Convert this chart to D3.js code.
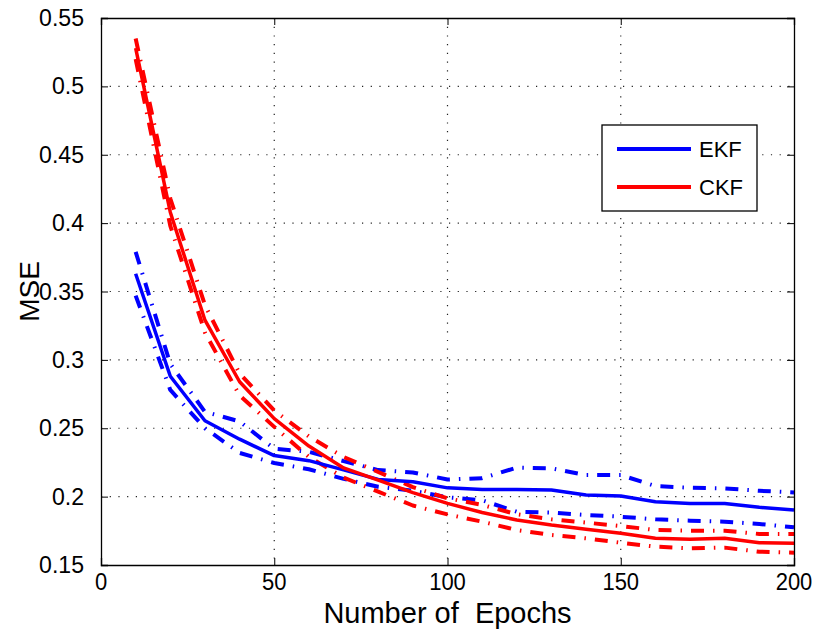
<!DOCTYPE html>
<html>
<head>
<meta charset="utf-8">
<script src="https://cdn.jsdelivr.net/npm/d3@7"></script>
<style>
  body { margin: 0; background: #fff; }
  text { font-family: "Liberation Sans", Arial, sans-serif; fill: #000; }
</style>
</head>
<body>
<div id="chart"></div>
<script>
// epochs sampled every 10
var epochs = [10, 20, 30, 40, 50, 60, 70, 80, 90, 100, 110, 120, 130, 140, 150, 160, 170, 180, 190, 200];

var ekfMean  = [0.363, 0.288, 0.2555, 0.242, 0.230, 0.2263, 0.2196, 0.2126, 0.2109, 0.2064, 0.2053, 0.2053, 0.2048, 0.2012, 0.2005, 0.1962, 0.1950, 0.1950, 0.1922, 0.1902];
var ekfUpper = [0.379, 0.297, 0.262, 0.255, 0.235, 0.2328, 0.226, 0.2194, 0.2177, 0.2125, 0.2135, 0.2212, 0.2207, 0.2158, 0.2158, 0.2077, 0.2065, 0.2060, 0.2043, 0.2030];
var ekfLower = [0.347, 0.278, 0.250, 0.232, 0.2246, 0.220, 0.213, 0.2072, 0.2043, 0.1995, 0.1973, 0.1890, 0.1883, 0.1866, 0.1853, 0.1834, 0.1824, 0.1817, 0.1800, 0.1776];

var ckfMean  = [0.528, 0.408, 0.329, 0.284, 0.257, 0.237, 0.221, 0.212, 0.2029, 0.1951, 0.1884, 0.1829, 0.1792, 0.1761, 0.1732, 0.1695, 0.1688, 0.1695, 0.1663, 0.1659];
var ckfUpper = [0.535, 0.418, 0.340, 0.290, 0.263, 0.244, 0.229, 0.218, 0.207, 0.1988, 0.1939, 0.1871, 0.1834, 0.1810, 0.1785, 0.1756, 0.1751, 0.1751, 0.1727, 0.1727];
var ckfLower = [0.520, 0.398, 0.320, 0.274, 0.251, 0.229, 0.214, 0.2036, 0.1935, 0.187, 0.1817, 0.1756, 0.1719, 0.1695, 0.1663, 0.1634, 0.1622, 0.1627, 0.1597, 0.1590];

var xTicks = [0, 50, 100, 150, 200];
var yTicks = [0.15, 0.2, 0.25, 0.3, 0.35, 0.4, 0.45, 0.5, 0.55];
var legendNames = ["EKF", "CKF"];
var colors = ["#0000ff", "#ff0000"];

var width = 816, height = 632;
var margin = {left: 101, right: 22, top: 18, bottom: 67};

var svg = d3.select("#chart")
    .append("svg")
    .attr("width", width)
    .attr("height", height);

var x = d3.scaleLinear().domain([0, 200]).range([margin.left, width - margin.right]);
var y = d3.scaleLinear().domain([0.15, 0.55]).range([height - margin.bottom, margin.top]);

var x0 = x.range()[0], x1 = x.range()[1];
var y0 = y.range()[0], y1 = y.range()[1];

//GRID (dotted)
var grid = svg.append("g");
grid.selectAll(".vg")
    .data(xTicks.slice(1, -1))
    .enter()
    .append("line")
    .attr("x1", (d) => x(d)).attr("x2", (d) => x(d))
    .attr("y1", y1).attr("y2", y0)
    .attr("stroke", "#222")
    .attr("stroke-width", 1.2)
    .attr("stroke-dasharray", "1.2,7.5");
grid.selectAll(".hg")
    .data(yTicks.slice(1, -1))
    .enter()
    .append("line")
    .attr("y1", (d) => y(d)).attr("y2", (d) => y(d))
    .attr("x1", x0).attr("x2", x1)
    .attr("stroke", "#222")
    .attr("stroke-width", 1.2)
    .attr("stroke-dasharray", "1.2,7.5");

//LINES
var line = d3.line()
    .x((d) => x(d[0]))
    .y((d) => y(d[1]));

function pairs(vals) {
    return epochs.map((e, i) => [e, vals[i]]);
}

var series = [
    {vals: ekfUpper, color: colors[0], dash: "13,9,1.5,9", w: 4},
    {vals: ekfLower, color: colors[0], dash: "13,9,1.5,9", w: 4},
    {vals: ckfUpper, color: colors[1], dash: "13,9,1.5,9", w: 4},
    {vals: ckfLower, color: colors[1], dash: "13,9,1.5,9", w: 4},
    {vals: ekfMean, color: colors[0], dash: null, w: 3.5},
    {vals: ckfMean, color: colors[1], dash: null, w: 3.5}
];

svg.append("g")
    .selectAll("path")
    .data(series)
    .enter()
    .append("path")
    .attr("d", (d) => line(pairs(d.vals)))
    .attr("fill", "none")
    .attr("stroke", (d) => d.color)
    .attr("stroke-width", (d) => d.w)
    .attr("stroke-dasharray", (d) => d.dash)
    .attr("stroke-linejoin", "round");

//AXES box + inward ticks
var xAxis = d3.axisBottom(x).tickValues(xTicks).tickSize(-7).tickFormat("");
var yAxis = d3.axisLeft(y).tickValues(yTicks).tickSize(-7).tickFormat("");
var xTop = d3.axisTop(x).tickValues(xTicks).tickSize(-7).tickFormat("");
var yRight = d3.axisRight(y).tickValues(yTicks).tickSize(-7).tickFormat("");

svg.append("g").attr("transform", `translate(0,${y0})`).call(xAxis);
svg.append("g").attr("transform", `translate(${x0},0)`).call(yAxis);
svg.append("g").attr("transform", `translate(0,${y1})`).call(xTop);
svg.append("g").attr("transform", `translate(${x1},0)`).call(yRight);
svg.selectAll(".domain").attr("stroke", "#000").attr("stroke-width", 1.3);
svg.selectAll(".tick line").attr("stroke", "#000");

//TICK LABELS
svg.append("g")
    .selectAll("text")
    .data(xTicks)
    .enter()
    .append("text")
    .attr("transform", (d) => `translate(${x(d)},${y0 + 25}) scale(1,1.05)`)
    .attr("text-anchor", "middle")
    .style("font-size", "22px")
    .text((d) => d);

svg.append("g")
    .selectAll("text")
    .data(yTicks)
    .enter()
    .append("text")
    .attr("transform", (d) => `translate(${x0 - 17},${y(d) + 8}) scale(1.05,1.08)`)
    .attr("text-anchor", "end")
    .style("font-size", "22px")
    .text((d) => d);

//AXIS LABELS
svg.append("text")
    .attr("transform", `translate(${(x0 + x1) / 2},${height - 9})`)
    .attr("text-anchor", "middle")
    .style("font-size", "29px")
    .style("white-space", "pre")
    .text("Number of  Epochs");

svg.append("text")
    .attr("transform", `translate(39,${(y0 + y1) / 2}) rotate(-90)`)
    .attr("text-anchor", "middle")
    .style("font-size", "28px")
    .text("MSE");

//LEGEND
var legend = svg.append("g").attr("transform", "translate(602,125)");
legend.append("rect")
    .attr("width", 155)
    .attr("height", 86)
    .attr("fill", "#fff")
    .attr("stroke", "#000")
    .attr("stroke-width", 1.3);

var items = legend.selectAll(".item")
    .data(legendNames)
    .enter()
    .append("g")
    .attr("transform", (d, i) => `translate(0,${24 + i * 38})`);

items.append("line")
    .attr("x1", 15).attr("x2", 89)
    .attr("stroke", (d, i) => colors[i])
    .attr("stroke-width", 4);

items.append("text")
    .attr("x", 97)
    .attr("y", 8)
    .style("font-size", "22px")
    .text((d) => d);
</script>
</body>
</html>
